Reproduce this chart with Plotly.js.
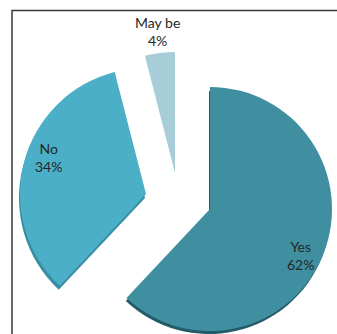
<!DOCTYPE html>
<html>
<head>
<meta charset="utf-8">
<script src="https://cdn.plot.ly/plotly-3.0.1.min.js"></script>
<style>html,body{margin:0;padding:0;background:#fff;}#chart{width:337px;height:334px;}</style>
</head>
<body>
<div id="chart"></div>
<script>
// ---- data ----
const labels = ["Yes", "No", "May be"];
const values = [62, 34, 4];
const colors = ["#3f8fa1", "#4bafc8", "#a7cdd8"];

// ---- layout helpers (exploded slice positions, px) ----
const W = 337, H = 334;
const radii = [122, 126, 121];
const centers = [[210, 209], [146, 194], [175, 173]];
const labelPos = [[300, 255], [48, 157], [157, 32]];

function domainFor(cx, cy, r) {
  return {
    x: [(cx - r) / W, (cx + r) / W],
    y: [(H - cy - r) / H, (H - cy + r) / H]
  };
}

const total = values.reduce(function (a, b) { return a + b; }, 0);
const traces = [];
// thin dark edge beneath Yes and No (3-D rim)
const rimColors = ["#245b69", "#3a8ea3"];
[0, 1].forEach(function (i) {
  const c = centers[i];
  traces.push({
    type: "pie",
    labels: labels,
    values: values,
    sort: false,
    direction: "clockwise",
    rotation: 0,
    marker: { colors: labels.map(function (_, j) { return j === i ? rimColors[i] : "rgba(0,0,0,0)"; }) },
    textinfo: "none",
    hoverinfo: "skip",
    domain: domainFor(c[0] - 1, c[1] + 4, radii[i]),
    showlegend: false
  });
});

labels.forEach(function (lab, i) {
  const c = centers[i];
  traces.push({
    type: "pie",
    labels: labels,
    values: values,
    sort: false,
    direction: "clockwise",
    rotation: 0,
    marker: { colors: labels.map(function (_, j) { return j === i ? colors[i] : "rgba(0,0,0,0)"; }) },
    textinfo: "none",
    hoverinfo: "label+percent",
    domain: domainFor(c[0], c[1], radii[i]),
    showlegend: false
  });
});

const annotations = labels.map(function (lab, i) {
  return {
    xref: "paper", yref: "paper",
    x: labelPos[i][0] / W, y: 1 - labelPos[i][1] / H,
    xanchor: "center", yanchor: "middle",
    text: lab + "<br>" + Math.round(values[i] / total * 100) + "%",
    showarrow: false,
    font: { family: "Lato, 'Open Sans', sans-serif", size: 14, color: "#262626" }
  };
});

const layout = {
  width: W,
  height: H,
  margin: { l: 0, r: 0, t: 0, b: 0 },
  paper_bgcolor: "#ffffff",
  plot_bgcolor: "#ffffff",
  showlegend: false,
  annotations: annotations,
  shapes: [{
    type: "rect", xref: "paper", yref: "paper",
    x0: 12 / W, x1: 1.05, y0: -0.05, y1: 1 - 10.5 / H,
    line: { color: "#3a3a3a", width: 1.5 }, fillcolor: "rgba(0,0,0,0)", layer: "below"
  }]
};

Plotly.newPlot("chart", traces, layout, { displayModeBar: false, staticPlot: true });
</script>
</body>
</html>
